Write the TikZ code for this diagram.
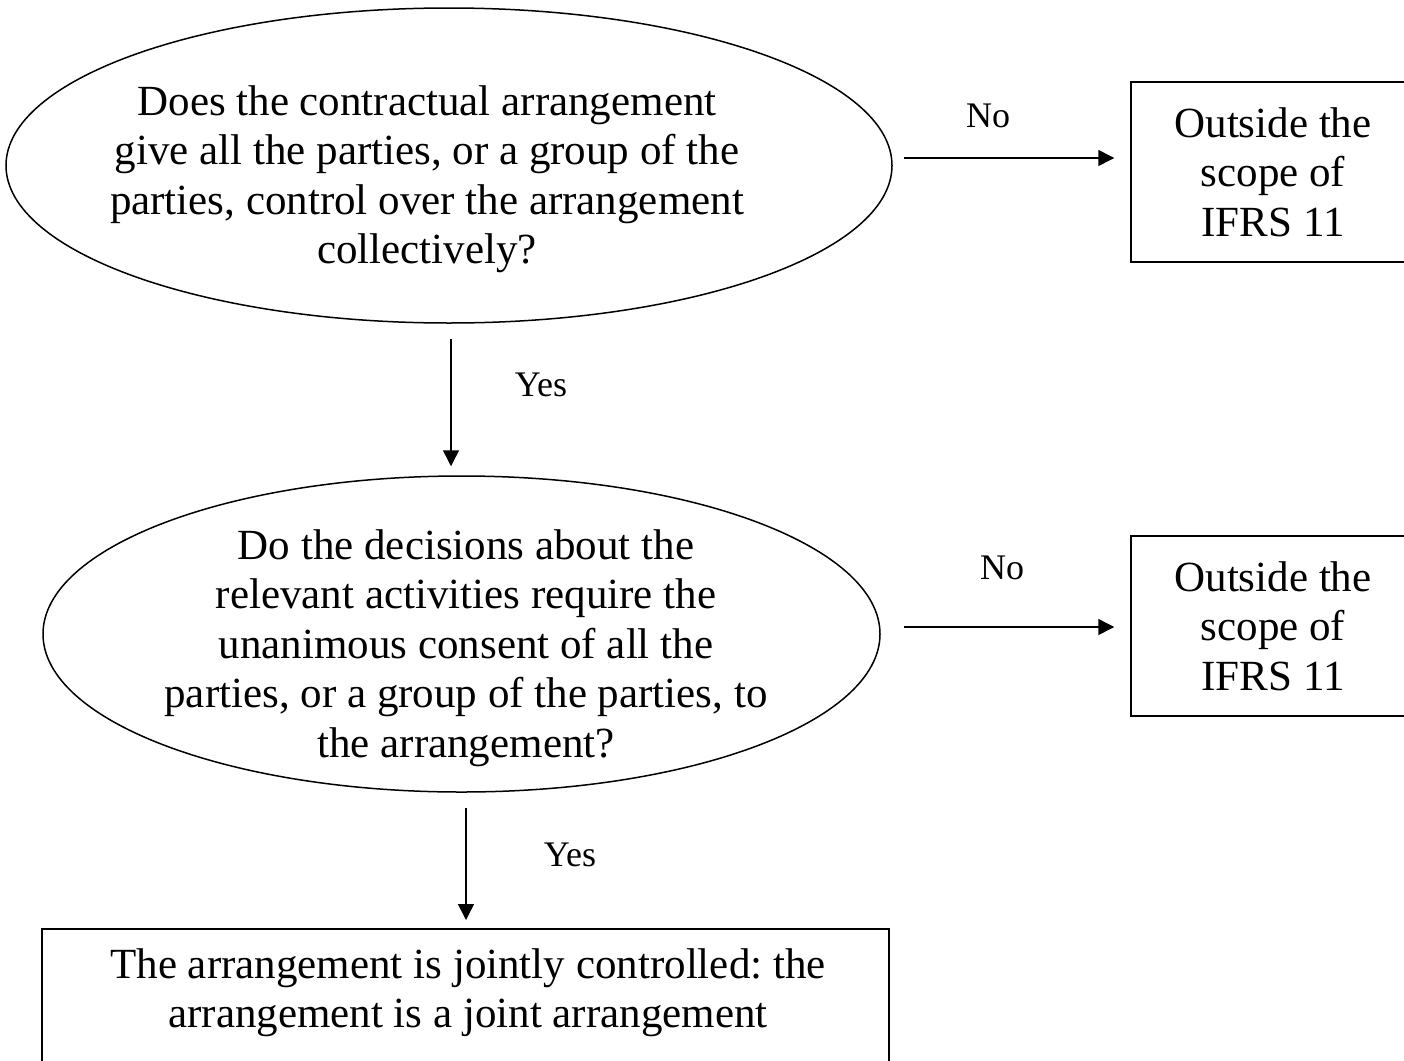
\documentclass[tikz,border=0pt]{standalone}
\usepackage{fontspec}
\setmainfont{Liberation Serif}
\usetikzlibrary{shapes.geometric,arrows.meta}
\frenchspacing

\begin{document}
\begin{tikzpicture}[x=1pt,y=1pt,
  big/.style={font=\fontsize{43}{49.5}\selectfont, align=center, inner sep=0pt},
  lab/.style={font=\fontsize{36}{40}\selectfont, inner sep=0pt, anchor=base},
  q/.style={draw, ellipse, line width=1.5pt, inner sep=0pt},
  bx/.style={draw, rectangle, line width=1.5pt, inner sep=0pt},
  arr/.style={line width=1.5pt, -{Triangle[length=16pt,width=16pt]}}]
\useasboundingbox (0,0) rectangle (1404,-1060);

% questions
\node[q, minimum width=886pt, minimum height=315pt] (q1) at (449,-165.5) {};
\node[big] (q1t) at (427,-179.2) {Does the contractual arrangement\\give all the parties, or a group of the\\parties, control over the arrangement\\collectively?};

\node[q, minimum width=837pt, minimum height=316pt] (q2) at (461.5,-634) {};
\node[big] (q2t) at (466,-648) {Do the decisions about the\\relevant activities require the\\unanimous consent of all the\\parties, or a group of the parties, to\\the arrangement?};

% outcomes
\node[bx, big, minimum width=284pt, minimum height=180pt] (o1) at (1273,-172) {Outside the\\scope of\\IFRS 11};
\node[bx, big, minimum width=284pt, minimum height=180pt] (o2) at (1273,-626) {Outside the\\scope of\\IFRS 11};

\node[bx, minimum width=847pt, minimum height=200pt, anchor=north] (res) at (465.5,-928) {};
\node[big] (rest) at (468,-992.7) {The arrangement is jointly controlled: the\\arrangement is a joint arrangement};

% connectors
\draw[arr] ([xshift=2pt,yshift=-15pt]q1.south) -- ([xshift=-10.5pt,yshift=9pt]q2.north);
\draw[arr] ([xshift=4.5pt,yshift=-15pt]q2.south) -- ([xshift=0.5pt,yshift=8pt]res.north);
\draw[arr] ([xshift=11pt,yshift=7.5pt]q1.east) -- ([xshift=-16pt,yshift=14pt]o1.west);
\draw[arr] ([xshift=23pt,yshift=7pt]q2.east) -- ([xshift=-16pt,yshift=-1pt]o2.west);

% labels
\node[lab] (no1) at (988,-127) {No};
\node[lab] (no2) at (1002,-579) {No};
\node[lab] (yes1) at (541,-396.7) {Yes};
\node[lab] (yes2) at (570,-866.7) {Yes};
\end{tikzpicture}
\end{document}
